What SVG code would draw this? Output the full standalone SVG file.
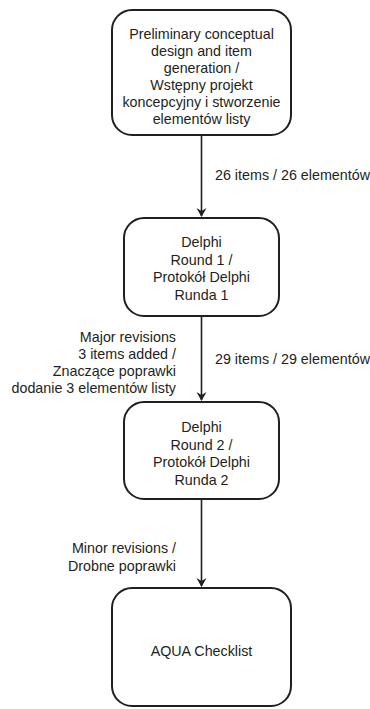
<svg xmlns="http://www.w3.org/2000/svg" width="370" height="709" viewBox="0 0 370 709">
<style>
.box{fill:#fff;stroke:#231f20;stroke-width:2}
.ln{stroke:#231f20;stroke-width:1.6;fill:none}
text{font-family:"Liberation Sans",Arial,sans-serif;font-size:14.3px;fill:#231f20}
.c{text-anchor:middle}
.r{text-anchor:end}
</style>
<defs>
<marker id="ah" markerWidth="10" markerHeight="12" refX="8" refY="6" orient="auto" markerUnits="userSpaceOnUse">
<path d="M0,1 L9,6 L0,11 L3,6 Z" fill="#231f20"/>
</marker>
</defs>
<rect width="370" height="709" fill="#fff"/>
<g id="connectors">
<line class="ln" x1="201.5" y1="136" x2="201.5" y2="216" marker-end="url(#ah)"/>
<line class="ln" x1="201.5" y1="317" x2="201.5" y2="400" marker-end="url(#ah)"/>
<line class="ln" x1="201.5" y1="500" x2="201.5" y2="586" marker-end="url(#ah)"/>
<text x="215" y="180">26 items / 26 elementów</text>
<text x="215" y="364">29 items / 29 elementów</text>
<text class="r" x="176" y="342">Major revisions</text>
<text class="r" x="176" y="359">3 items added /</text>
<text class="r" x="176" y="376">Znaczące poprawki</text>
<text class="r" x="176" y="393">dodanie 3 elementów listy</text>
<text class="r" x="176" y="553">Minor revisions /</text>
<text class="r" x="176" y="571">Drobne poprawki</text>
</g>
<g id="n1">
<rect class="box" x="112" y="10" width="179" height="125" rx="20"/>
<text class="c" x="201.5" y="38.5">Preliminary conceptual</text>
<text class="c" x="201.5" y="55.5">design and item</text>
<text class="c" x="201.5" y="72.5">generation /</text>
<text class="c" x="201.5" y="89.5">Wstępny projekt</text>
<text class="c" x="201.5" y="106.5">koncepcyjny i stworzenie</text>
<text class="c" x="201.5" y="123.5">elementów listy</text>
</g>
<g id="n2">
<rect class="box" x="124" y="218" width="155" height="98" rx="20"/>
<text class="c" x="201.5" y="247">Delphi</text>
<text class="c" x="201.5" y="264.5">Round 1 /</text>
<text class="c" x="201.5" y="282">Protokół Delphi</text>
<text class="c" x="201.5" y="299.5">Runda 1</text>
</g>
<g id="n3">
<rect class="box" x="124" y="402" width="155" height="97" rx="20"/>
<text class="c" x="201.5" y="432">Delphi</text>
<text class="c" x="201.5" y="449.5">Round 2 /</text>
<text class="c" x="201.5" y="467">Protokół Delphi</text>
<text class="c" x="201.5" y="484.5">Runda 2</text>
</g>
<g id="n4">
<rect class="box" x="112" y="588" width="179" height="118" rx="20"/>
<text class="c" x="201.5" y="656">AQUA Checklist</text>
</g>
</svg>
